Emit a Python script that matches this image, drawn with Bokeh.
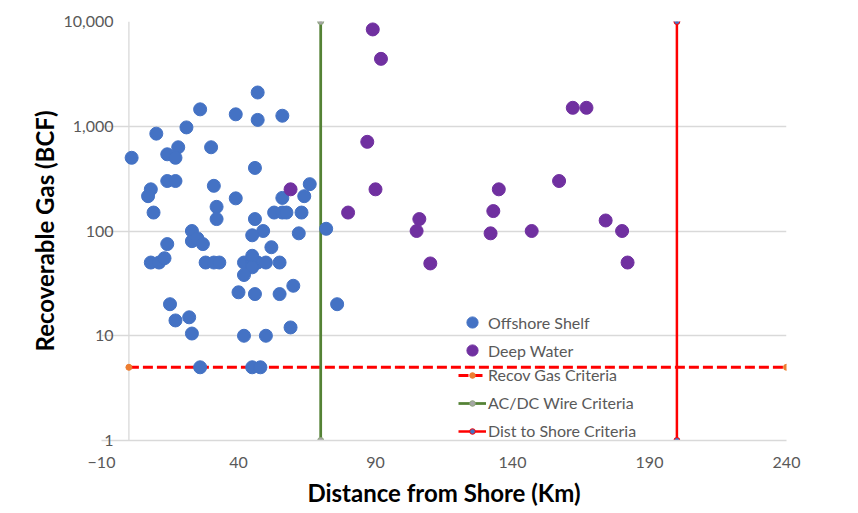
from bokeh.plotting import figure
from bokeh.models import FixedTicker, NumeralTickFormatter, Span, Legend, LegendItem
from bokeh.embed import file_html
from bokeh.resources import INLINE

# Offshore Shelf fields: distance from shore (km), recoverable gas (BCF)
shelf_x = [1, 10, 26, 21, 39, 47, 47, 56, 18, 14, 17, 30, 46, 8, 7, 9, 14, 17,
           31, 32, 32, 39, 56, 64, 66, 46, 53, 56, 57.5, 63, 62, 49, 45, 52, 72,
           23, 23, 25, 27, 14, 8, 11, 13, 28, 31, 33, 42, 45, 47, 50, 55, 45, 45,
           42, 40, 46, 55, 60, 15, 17, 22, 23, 42, 50, 59, 26, 45, 48, 76]
shelf_y = [500, 850, 1450, 975, 1300, 2100, 1150, 1260, 630, 540, 500, 630, 400,
           250, 215, 150, 300, 300, 270, 170, 130, 205, 207, 215, 280, 130, 150,
           150, 150, 150, 95, 100, 91, 70, 105, 100, 80, 85, 75, 75, 50, 50, 55,
           50, 50, 50, 50, 50, 50, 50, 50, 58, 45, 38, 26, 25, 25, 30, 20, 14, 15,
           10.5, 10, 10, 12, 5, 5, 5, 20]

# Deep Water fields
deep_x = [59, 89, 92, 162, 167, 87, 90, 135, 157, 80, 133, 106, 105, 132, 147,
          174, 180, 182, 110]
deep_y = [250, 8400, 4400, 1500, 1500, 710, 250, 250, 300, 150, 155, 130, 100,
          95, 100, 126, 100, 50, 49]

# Criteria lines
recov_x = [0, 240]
recov_y = [5, 5]
acdc_x = [70, 70]
acdc_y = [1, 10000]
shore_x = [200, 200]
shore_y = [1, 10000]

x_ticks = [-10, 40, 90, 140, 190, 240]
y_ticks = [1, 10, 100, 1000, 10000]

FONT = "Lato"
LABEL_GRAY = "#595959"
GRID = "#D9D9D9"

p = figure(width=850, height=512, x_range=(-10, 240), y_range=(1, 10000),
           y_axis_type="log", output_backend="svg", toolbar_location=None,
           min_border_left=101, min_border_right=64, min_border_top=21,
           min_border_bottom=72)
p.outline_line_color = None
p.background_fill_color = "white"
p.border_fill_color = "white"

p.xgrid.visible = False
p.ygrid.ticker = FixedTicker(ticks=y_ticks)
p.ygrid.grid_line_color = GRID
p.ygrid.grid_line_width = 1.3
p.ygrid.minor_grid_line_color = None

# vertical axis line crossing at x = 0
p.add_layout(Span(location=0, dimension="height", line_color=GRID,
                  line_width=1.3, level="underlay"))

xa = p.xaxis[0]
xa.ticker = FixedTicker(ticks=x_ticks)
xa.axis_line_color = GRID
xa.axis_line_width = 1.3
xa.major_tick_line_color = None
xa.minor_tick_line_color = None
xa.major_tick_out = 0
xa.major_tick_in = 0
xa.major_label_text_color = LABEL_GRAY
xa.major_label_text_font = FONT
xa.major_label_text_font_size = "16px"
xa.major_label_standoff = 16
xa.axis_label = "Distance from Shore (Km)"
xa.axis_label_text_font = FONT
xa.axis_label_text_font_style = "bold"
xa.axis_label_text_font_size = "24px"
xa.axis_label_text_color = "#000000"
xa.axis_label_standoff = 7

ya = p.yaxis[0]
ya.ticker = FixedTicker(ticks=y_ticks)
ya.formatter = NumeralTickFormatter(format="0,0")
ya.axis_line_color = None
ya.major_tick_line_color = None
ya.minor_tick_line_color = None
ya.major_tick_out = 0
ya.major_tick_in = 0
ya.major_label_text_color = LABEL_GRAY
ya.major_label_text_font = FONT
ya.major_label_text_font_size = "16px"
ya.major_label_standoff = -12
try:
    ya.major_label_background_fill_color = "white"
except AttributeError:
    pass
ya.axis_label = "Recoverable Gas (BCF)"
ya.axis_label_text_font = FONT
ya.axis_label_text_font_style = "bold"
ya.axis_label_text_font_size = "24px"
ya.axis_label_text_color = "#000000"
ya.axis_label_standoff = 1

# criteria lines
l_recov = p.line(recov_x, recov_y, line_color="#FF0000", line_width=3,
                 line_dash="10 4")
m_recov = p.scatter(recov_x, recov_y, size=6, fill_color="#ED7D31",
                    line_color="#ED7D31")
l_acdc = p.line(acdc_x, acdc_y, line_color="#548235", line_width=2.75)
m_acdc = p.scatter(acdc_x, acdc_y, size=6, fill_color="#A5A5A5",
                   line_color="#8FA67E")
l_shore = p.line(shore_x, shore_y, line_color="#FF0000", line_width=2.5)
m_shore = p.scatter(shore_x, shore_y, size=6, fill_color="#4472C4",
                    line_color="#FF0000", line_width=1)

# data series
r_shelf = p.scatter(shelf_x, shelf_y, size=13, fill_color="#4472C4",
                    line_color="#4472C4", line_width=1)
r_deep = p.scatter(deep_x, deep_y, size=13, fill_color="#7030A0",
                   line_color="#7030A0", line_width=1)

def style_legend(lg):
    lg.label_text_font = FONT
    lg.label_text_font_size = "16px"
    lg.label_text_color = LABEL_GRAY
    lg.glyph_width = 28
    lg.label_standoff = 2
    lg.padding = 0
    lg.margin = 0
    lg.background_fill_alpha = 0
    lg.border_line_color = None

leg_a = Legend(items=[LegendItem(label="Offshore Shelf", renderers=[r_shelf]),
                      LegendItem(label="Deep Water", renderers=[r_deep])],
               location=(357, 76))
style_legend(leg_a)
leg_a.glyph_height = 28
leg_a.label_height = 28
leg_a.spacing = 0

leg_b = Legend(items=[LegendItem(label="Recov Gas Criteria", renderers=[l_recov, m_recov]),
                      LegendItem(label="AC/DC Wire Criteria", renderers=[l_acdc, m_acdc]),
                      LegendItem(label="Dist to Shore Criteria", renderers=[l_shore, m_shore])],
               location=(357, 0))
style_legend(leg_b)
leg_b.glyph_height = 14
leg_b.label_height = 14
leg_b.spacing = 9

p.add_layout(leg_a)
p.add_layout(leg_b)

open("out.html", "w").write(file_html(p, INLINE))
